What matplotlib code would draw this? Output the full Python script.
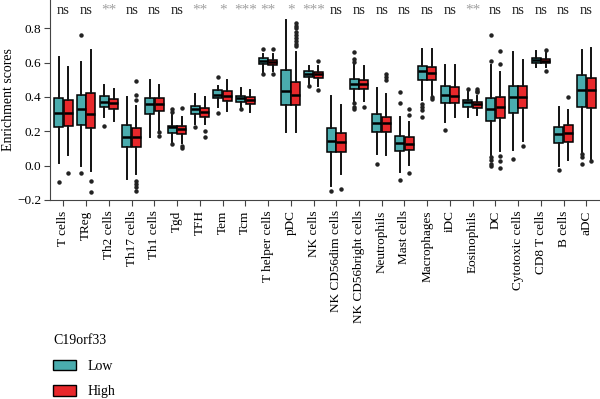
import numpy as np
import matplotlib
matplotlib.use("Agg")
import matplotlib.pyplot as plt
from matplotlib.patches import Patch

plt.rcParams['font.family'] = ['Liberation Serif', 'DejaVu Serif']

cells = ['T cells', 'TReg', 'Th2 cells', 'Th17 cells', 'Th1 cells', 'Tgd', 'TFH',
         'Tem', 'Tcm', 'T helper cells', 'pDC', 'NK cells', 'NK CD56dim cells',
         'NK CD56bright cells', 'Neutrophils', 'Mast cells', 'Macrophages', 'iDC',
         'Eosinophils', 'DC', 'Cytotoxic cells', 'CD8 T cells', 'B cells', 'aDC']
signif = ['ns', 'ns', '**', 'ns', 'ns', 'ns', '**', '*', '***', '**', '*', '***',
          'ns', 'ns', 'ns', 'ns', 'ns', 'ns', '**', 'ns', 'ns', 'ns', 'ns', 'ns']

# (whisker low, q1, median, q3, whisker high)
low_stats = [
    (0.016, 0.222, 0.307, 0.392, 0.632), (-0.004, 0.237, 0.330, 0.414, 0.602),
    (0.282, 0.344, 0.373, 0.406, 0.470), (-0.078, 0.107, 0.165, 0.239, 0.402),
    (0.165, 0.301, 0.356, 0.392, 0.500), (0.136, 0.190, 0.223, 0.233, 0.300),
    (0.243, 0.301, 0.330, 0.346, 0.420), (0.340, 0.392, 0.412, 0.441, 0.461),
    (0.340, 0.373, 0.392, 0.408, 0.451), (0.544, 0.593, 0.608, 0.626, 0.651),
    (0.194, 0.354, 0.433, 0.558, 0.849), (0.476, 0.515, 0.535, 0.550, 0.579),
    (-0.117, 0.078, 0.146, 0.218, 0.408), (0.379, 0.445, 0.476, 0.503, 0.593),
    (0.068, 0.194, 0.249, 0.301, 0.453), (-0.039, 0.087, 0.130, 0.171, 0.282),
    (0.385, 0.496, 0.550, 0.583, 0.680), (0.253, 0.365, 0.414, 0.461, 0.587),
    (0.286, 0.344, 0.373, 0.383, 0.433), (0.064, 0.262, 0.330, 0.395, 0.587),
    (0.091, 0.305, 0.398, 0.461, 0.661), (0.573, 0.599, 0.616, 0.628, 0.665),
    (0.000, 0.130, 0.185, 0.227, 0.344), (0.078, 0.344, 0.441, 0.525, 0.671),
]
high_stats = [
    (0.064, 0.229, 0.307, 0.385, 0.573), (-0.029, 0.220, 0.301, 0.424, 0.671),
    (0.258, 0.328, 0.363, 0.387, 0.447), (-0.049, 0.107, 0.165, 0.218, 0.350),
    (0.204, 0.317, 0.356, 0.391, 0.472), (0.130, 0.185, 0.214, 0.231, 0.282),
    (0.243, 0.286, 0.315, 0.336, 0.398), (0.321, 0.379, 0.408, 0.437, 0.496),
    (0.315, 0.360, 0.383, 0.398, 0.441), (0.550, 0.587, 0.602, 0.618, 0.651),
    (0.194, 0.354, 0.412, 0.486, 0.661), (0.466, 0.511, 0.531, 0.544, 0.579),
    (-0.049, 0.082, 0.136, 0.190, 0.354), (0.379, 0.445, 0.476, 0.500, 0.583),
    (0.064, 0.198, 0.249, 0.286, 0.418), (0.006, 0.093, 0.126, 0.169, 0.253),
    (0.404, 0.496, 0.538, 0.573, 0.680), (0.286, 0.365, 0.408, 0.457, 0.587),
    (0.292, 0.334, 0.360, 0.369, 0.408), (0.087, 0.278, 0.344, 0.398, 0.544),
    (0.146, 0.334, 0.398, 0.466, 0.616), (0.573, 0.596, 0.612, 0.624, 0.660),
    (0.035, 0.140, 0.188, 0.237, 0.325), (0.039, 0.334, 0.441, 0.511, 0.686),
]
low_fliers = [
    [-0.097], [0.762, -0.045], [0.233], [], [], [0.330, 0.310, 0.125],
    [0.223], [0.515, 0.305], [0.327], [0.678, 0.531], [], [0.461],
    [-0.150], [0.661, 0.622, 0.602, 0.363, 0.344, 0.330], [0.010],
    [0.428, 0.363, -0.082], [0.356, 0.340, 0.325, 0.286], [0.208],
    [0.447], [0.762, 0.608, 0.048, 0.035, 0.010, -0.004], [0.039], [],
    [-0.025], [0.068, 0.048, 0.010],
]
high_fliers = [
    [-0.045], [-0.089, -0.156], [], [0.492, 0.412, 0.383, -0.087, -0.107, -0.122, -0.146],
    [0.194, 0.175], [0.334, 0.115, 0.105], [0.200, 0.165], [], [],
    [0.678, 0.535], [0.830, 0.815, 0.799, 0.781, 0.762, 0.742, 0.725, 0.710, 0.698],
    [0.612, 0.441], [-0.136], [0.344], [0.531, 0.515, 0.496], [0.330, 0.292, -0.045],
    [0.398, 0.390], [], [0.447, 0.437, 0.428], [0.666, 0.593, 0.058, 0.029, -0.014],
    [0.117], [0.675, 0.554], [0.398], [0.029],
]

low_color = '#4aacae'
high_color = '#e8282b'

def make_stats(stats, fliers):
    out = []
    for (wl, q1, med, q3, wh), fl in zip(stats, fliers):
        out.append(dict(whislo=wl, q1=q1, med=med, q3=q3, whishi=wh, fliers=fl))
    return out

fig = plt.figure(figsize=(6, 3.99), dpi=100)
ax = fig.add_axes([0.083, 0.499, 0.915, 0.501])

pos = np.arange(len(cells))
props = dict(patch_artist=True, widths=0.4, showcaps=False,
             medianprops=dict(color='black', lw=1.8),
             whiskerprops=dict(color='#111111', lw=1.4),
             flierprops=dict(marker='o', markersize=2.2, markerfacecolor='#222222',
                             markeredgecolor='#222222'))
for stats, fl, off, col in [(low_stats, low_fliers, -0.21, low_color),
                            (high_stats, high_fliers, 0.21, high_color)]:
    bp = ax.bxp(make_stats(stats, fl), positions=pos + off,
                boxprops=dict(facecolor=col, edgecolor='black', lw=1.1), **props)

for i, s in enumerate(signif):
    c = '#222222' if s == 'ns' else '#a0a0a0'
    ax.text(i, 0.905, s, ha='center', va='center', fontsize=10.5 if s == 'ns' else 11,
            color=c)

ax.set_xlim(-0.6, 23.55)
ax.set_ylim(-0.2, 0.965)
ax.set_xticks(pos)
ax.set_xticklabels(cells, rotation=90, fontsize=9.5)
ax.set_yticks([-0.2, 0.0, 0.2, 0.4, 0.6, 0.8])
ax.set_yticklabels(['\u22120.2', '0.0', '0.2', '0.4', '0.6', '0.8'], fontsize=9.5)
ax.set_ylabel('Enrichment scores', fontsize=10)
ax.yaxis.set_label_coords(-0.064, 0.5)
for sp in ['top', 'right']:
    ax.spines[sp].set_visible(False)
ax.spines['left'].set_color('#444444')
ax.spines['bottom'].set_color('#444444')
ax.tick_params(length=4, color='#444444')
ax.tick_params(axis='y', pad=2)

handles = [Patch(facecolor=low_color, edgecolor='black', label='Low'),
           Patch(facecolor=high_color, edgecolor='black', label='High')]
fig.legend(handles=handles, title='C19orf33', loc='lower left',
           bbox_to_anchor=(0.068, -0.03), frameon=False, fontsize=10,
           title_fontsize=10, labelspacing=0.9, handlelength=1.6,
           handleheight=0.8, handletextpad=0.9, alignment='left')

fig.savefig('out.png', dpi=100)
